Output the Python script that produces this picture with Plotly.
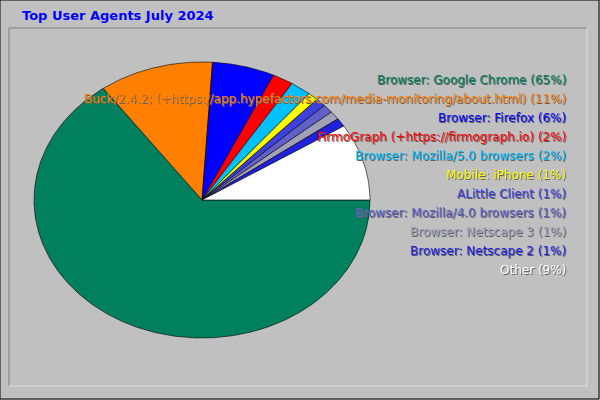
import numpy as np
import plotly.graph_objects as go

labels = ["Browser: Google Chrome", "Buck/2.4.2; (+https://app.hypefactors.com/media-monitoring/about.html)",
          "Browser: Firefox", "FirmoGraph (+https://firmograph.io)", "Browser: Mozilla/5.0 browsers",
          "Mobile: iPhone", "ALittle Client", "Browser: Mozilla/4.0 browsers",
          "Browser: Netscape 3", "Browser: Netscape 2", "Other"]
values = [65, 11, 6, 2, 2, 1, 1, 1, 1, 1, 9]
colors = ["#00805c", "#ff8000", "#0000ff", "#ff0000", "#00c0ff", "#ffff00",
          "#4040e0", "#6060c8", "#a0a0b8", "#2020e0", "#ffffff"]

cx, cy, rx, ry = 202, 200, 168, 138
fig = go.Figure()

# panel frame
fig.add_shape(type="rect", x0=0, y0=0, x1=599, y1=399, line=dict(color="black", width=1), fillcolor="#c0c0c0", layer="below")
fig.add_shape(type="rect", x0=9, y0=28, x1=587, y1=386, line=dict(color="#808080", width=1), fillcolor="#c0c0c0", layer="below")
fig.add_shape(type="line", x0=9, y0=386, x1=587, y1=386, line=dict(color="white", width=1))
fig.add_shape(type="line", x0=587, y0=28, x1=587, y1=386, line=dict(color="white", width=1))

total = sum(values)
start = 0.0
for lab, v, c in zip(labels, values, colors):
    sweep = 360.0 * v / total
    a = np.radians(np.linspace(start, start + sweep, max(int(sweep * 2), 3)))
    xs = np.concatenate([[cx], cx + rx * np.cos(a), [cx]])
    ys = np.concatenate([[cy], cy + ry * np.sin(a), [cy]])
    fig.add_trace(go.Scatter(x=xs, y=ys, fill="toself", fillcolor=c, mode="lines",
                             line=dict(color="black", width=0.6), hoverinfo="text",
                             text=f"{lab} ({v}%)", showlegend=False))
    start += sweep

for i, (lab, v, c) in enumerate(zip(labels, values, colors)):
    y = 80 + i * 19
    txt = f"{lab} ({v}%)"
    fig.add_annotation(x=569, y=y + 1, text=txt, showarrow=False, xanchor="right",
                       font=dict(family="DejaVu Sans", size=12, color="#606060"))
    fig.add_annotation(x=568, y=y, text=txt, showarrow=False, xanchor="right",
                       font=dict(family="DejaVu Sans", size=12, color=c))

fig.add_annotation(x=20, y=15, text="<b>Top User Agents July 2024</b>", showarrow=False, xanchor="left",
                   font=dict(family="DejaVu Sans", size=13, color="#0000ff"))

fig.update_layout(width=600, height=400, margin=dict(l=0, r=0, t=0, b=0),
                  paper_bgcolor="#c0c0c0", plot_bgcolor="#c0c0c0",
                  xaxis=dict(range=[0, 600], visible=False, fixedrange=True),
                  yaxis=dict(range=[400, 0], visible=False, fixedrange=True))
fig.write_html("out.html", config={"displayModeBar": False},
               post_script="document.body.style.margin='0';document.body.style.overflow='hidden';")
